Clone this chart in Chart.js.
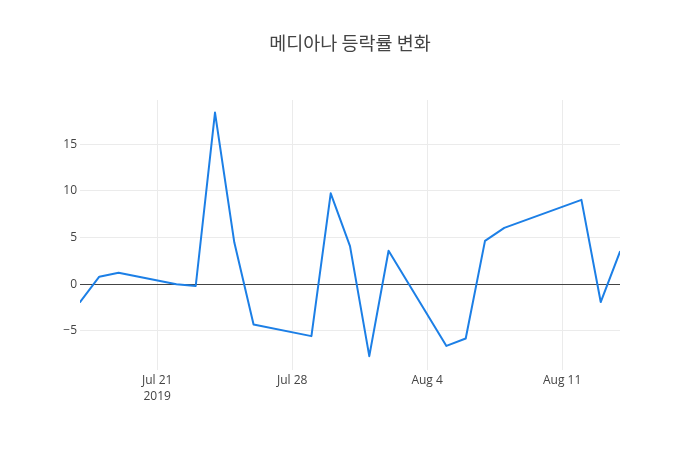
<!DOCTYPE html>
<html>
<head>
<meta charset="utf-8">
<script src="https://cdn.jsdelivr.net/npm/chart.js@4.4.0/dist/chart.umd.min.js"></script>
<style>
html,body{margin:0;padding:0;background:#fff;}
#wrap{width:700px;height:450px;position:relative;}
</style>
</head>
<body>
<div id="wrap"><canvas id="c" width="700" height="450"></canvas></div>
<script>
const titleText = '메디아나 등락률 변화';
const dates = ['2019-07-17','2019-07-18','2019-07-19','2019-07-22','2019-07-23','2019-07-24','2019-07-25','2019-07-26','2019-07-29','2019-07-30','2019-07-31','2019-08-01','2019-08-02','2019-08-05','2019-08-06','2019-08-07','2019-08-08','2019-08-12','2019-08-13','2019-08-14'];
const changes = [-1.9, 0.82, 1.25, 0.0, -0.18, 18.4, 4.5, -4.3, -5.55, 9.75, 4.1, -7.7, 3.6, -6.6, -5.8, 4.65, 6.05, 9.05, -1.9, 3.5];
const xTickDates = ['2019-07-21','2019-07-28','2019-08-04','2019-08-11'];
const xTickLabels = [['Jul 21','2019'],['Jul 28'],['Aug 4'],['Aug 11']];
const yTicks = [-5, 0, 5, 10, 15];

const DAY = 86400000;
const toDay = s => Date.UTC(+s.slice(0,4), +s.slice(5,7)-1, +s.slice(8,10)) / DAY;
const xs = dates.map(toDay);
const tickDays = xTickDates.map(toDay);
const FONT = '"Open Sans", "Noto Sans", sans-serif';

const titlePlugin = {
  id: 'ptitle',
  afterDraw(chart) {
    const ctx = chart.ctx;
    ctx.save();
    ctx.fillStyle = '#444';
    ctx.font = '18.5px "Noto Sans CJK KR", "Open Sans", sans-serif';
    ctx.textAlign = 'center';
    ctx.textBaseline = 'middle';
    ctx.fillText(titleText, 350, 43);
    ctx.restore();
  }
};

new Chart(document.getElementById('c'), {
  type: 'line',
  data: {
    datasets: [{
      data: xs.map((x, i) => ({x: x, y: changes[i]})),
      borderColor: '#1c7fe6',
      borderWidth: 2,
      borderJoinStyle: 'round',
      borderCapStyle: 'round',
      pointRadius: 0,
      tension: 0,
      fill: false
    }]
  },
  options: {
    responsive: false,
    animation: false,
    layout: {padding: {left: 0, right: 80, top: 100, bottom: 0}},
    plugins: {legend: {display: false}, tooltip: {enabled: false}, title: {display: false}},
    scales: {
      x: {
        type: 'linear',
        min: xs[0],
        max: xs[xs.length - 1],
        afterBuildTicks(axis) { axis.ticks = tickDays.map(v => ({value: v})); },
        afterFit(axis) { axis.height = 80; },
        ticks: {
          autoSkip: false,
          maxRotation: 0,
          padding: 2,
          color: '#444',
          font: {family: FONT, size: 12, lineHeight: 1.35},
          callback(v) { const i = tickDays.indexOf(v); return i >= 0 ? xTickLabels[i] : ''; }
        },
        grid: {color: '#ebebeb', lineWidth: 1, drawTicks: false},
        border: {display: false}
      },
      y: {
        min: -9.18,
        max: 19.75,
        afterBuildTicks(axis) { axis.ticks = yTicks.map(v => ({value: v})); },
        afterFit(axis) { axis.width = 80; },
        ticks: {
          padding: 3,
          color: '#444',
          font: {family: FONT, size: 12},
          callback(v) { return v < 0 ? '\u2212' + Math.abs(v) : String(v); }
        },
        grid: {
          drawTicks: false,
          color: ctx => (ctx.tick && ctx.tick.value === 0) ? '#444' : '#ebebeb',
          lineWidth: 1
        },
        border: {display: false}
      }
    }
  },
  plugins: [titlePlugin]
});
</script>
</body>
</html>
